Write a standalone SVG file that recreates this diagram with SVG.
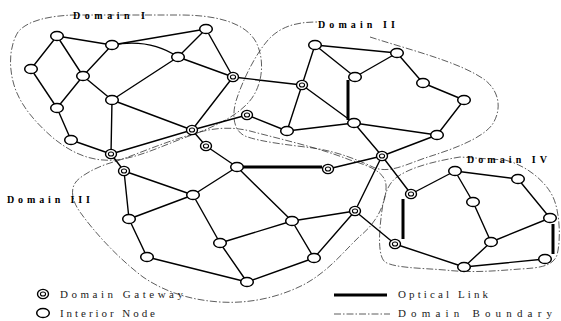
<svg xmlns="http://www.w3.org/2000/svg" width="561" height="321" viewBox="0 0 561 321">
  <style>
    .bg { fill: #ffffff; }
    .edge { stroke: #000; stroke-width: 1.4; fill: none; stroke-linecap: round; }
    .optical { stroke: #000; stroke-width: 3; fill: none; }
    .boundary { stroke: #333; stroke-width: 0.8; fill: none; stroke-dasharray: 7 2 1.5 2; }
    .node { fill: #fff; stroke: #000; stroke-width: 1.5; }
    .gw { fill: #fff; stroke: #000; stroke-width: 1.4; }
    .gwin { fill: none; stroke: #000; stroke-width: 1.1; }
    .dlabel { font-family: "Liberation Serif", "Times New Roman", serif; font-weight: bold; font-size: 10px; fill: #000; }
    .legend { font-family: "Liberation Serif", "Times New Roman", serif; font-size: 11px; fill: #222; }
  </style>
  <defs>
    <g id="inode"><ellipse class="node" cx="0" cy="0" rx="6.3" ry="4.6"/></g>
    <g id="gway"><ellipse class="gw" cx="0" cy="0" rx="5.5" ry="4.6"/><ellipse class="gwin" cx="0" cy="0" rx="2.6" ry="2"/></g>
  </defs>
  <rect class="bg" x="0" y="0" width="561" height="321"/>

  <!-- domain boundaries -->
  <g id="boundaries">
    <path id="domain-1-boundary" class="boundary" d="M145,15 L180,15 C215,15 245,22 256,42 C266,62 262,88 248,103 C235,117 215,126 195,134 C170,142 140,158 115,160 C90,162 70,152 52,137 C35,122 20,105 14,85 C8,65 10,45 18,32 C28,20 50,16 73,15 Z"/>
    <path id="domain-2-boundary" class="boundary" d="M370,37 C410,50 460,62 485,80 C500,92 502,110 492,125 C480,140 450,150 425,158 C405,165 390,173 375,168 C360,161 340,152 313,148 C290,145 260,142 245,136 C232,130 232,112 237,98 C243,80 255,55 268,40 C280,27 295,22 317,22"/>
    <path id="domain-3-boundary" class="boundary" d="M117,161 C140,153 165,142 190,135 C210,128 230,126 250,131 C280,139 320,148 350,160 C370,166 385,172 386,185 C387,200 378,222 360,236 C345,250 330,270 305,284 C280,297 250,304 220,302 C190,300 165,292 143,277 C118,258 95,233 80,212 C70,198 70,185 80,178 C90,170 105,164 117,161 Z"/>
    <path id="domain-4-boundary" class="boundary" d="M505,160 C525,165 545,180 553,197 C560,212 561,240 557,255 C553,266 540,268 520,269 C495,271 470,273 445,270 C420,268 395,268 385,262 C378,256 379,235 381,218 C383,200 386,185 397,177 C410,168 430,162 460,157 L505,160"/>
  </g>

  <!-- links -->
  <g id="connectors">
    <!-- domain I -->
    <line class="edge" x1="57" y1="36" x2="112" y2="45"/>
    <line class="edge" x1="57" y1="36" x2="31" y2="69"/>
    <line class="edge" x1="57" y1="36" x2="83" y2="76"/>
    <line class="edge" x1="112" y1="45" x2="206" y2="29"/>
    <path class="edge" d="M112,45 Q150,38 178,57"/>
    <line class="edge" x1="112" y1="45" x2="83" y2="76"/>
    <line class="edge" x1="31" y1="69" x2="57" y2="108"/>
    <line class="edge" x1="83" y1="76" x2="57" y2="108"/>
    <line class="edge" x1="83" y1="76" x2="112" y2="100"/>
    <line class="edge" x1="57" y1="108" x2="71" y2="140"/>
    <line class="edge" x1="112" y1="100" x2="178" y2="57"/>
    <line class="edge" x1="112" y1="100" x2="111" y2="154"/>
    <line class="edge" x1="112" y1="100" x2="192" y2="130"/>
    <line class="edge" x1="71" y1="140" x2="111" y2="154"/>
    <line class="edge" x1="111" y1="154" x2="192" y2="130"/>
    <line class="edge" x1="111" y1="154" x2="124" y2="171"/>
    <line class="edge" x1="206" y1="29" x2="178" y2="57"/>
    <line class="edge" x1="206" y1="29" x2="233" y2="77"/>
    <line class="edge" x1="178" y1="57" x2="233" y2="77"/>
    <line class="edge" x1="233" y1="77" x2="192" y2="130"/>
    <line class="edge" x1="192" y1="130" x2="206" y2="146"/>
    <line class="edge" x1="192" y1="130" x2="247" y2="115"/>
    <!-- domain II -->
    <line class="edge" x1="233" y1="77" x2="302" y2="85"/>
    <line class="edge" x1="302" y1="85" x2="315" y2="45"/>
    <line class="edge" x1="302" y1="85" x2="354" y2="123"/>
    <line class="edge" x1="302" y1="85" x2="287" y2="131"/>
    <line class="edge" x1="315" y1="45" x2="397" y2="53"/>
    <line class="edge" x1="315" y1="45" x2="355" y2="77"/>
    <line class="edge" x1="355" y1="77" x2="397" y2="53"/>
    <line class="optical" x1="348" y1="80" x2="348" y2="120"/>
    <line class="edge" x1="397" y1="53" x2="423" y2="83"/>
    <line class="edge" x1="423" y1="83" x2="464" y2="100"/>
    <line class="edge" x1="464" y1="100" x2="437" y2="135"/>
    <line class="edge" x1="354" y1="123" x2="437" y2="135"/>
    <line class="edge" x1="287" y1="131" x2="354" y2="123"/>
    <line class="edge" x1="247" y1="115" x2="287" y2="131"/>
    <line class="edge" x1="354" y1="123" x2="382" y2="156"/>
    <line class="edge" x1="437" y1="135" x2="382" y2="156"/>
    <!-- domain III -->
    <line class="edge" x1="206" y1="146" x2="237" y2="167"/>
    <line class="optical" x1="243" y1="167" x2="322" y2="167"/>
    <line class="edge" x1="328" y1="169" x2="382" y2="156"/>
    <line class="edge" x1="237" y1="167" x2="193" y2="195"/>
    <line class="edge" x1="237" y1="167" x2="292" y2="221"/>
    <line class="edge" x1="124" y1="171" x2="193" y2="195"/>
    <line class="edge" x1="124" y1="171" x2="129" y2="219"/>
    <line class="edge" x1="129" y1="219" x2="193" y2="195"/>
    <line class="edge" x1="129" y1="219" x2="147" y2="257"/>
    <line class="edge" x1="193" y1="195" x2="220" y2="243"/>
    <line class="edge" x1="147" y1="257" x2="247" y2="282"/>
    <line class="edge" x1="220" y1="243" x2="247" y2="282"/>
    <line class="edge" x1="220" y1="243" x2="292" y2="221"/>
    <line class="edge" x1="292" y1="221" x2="355" y2="211"/>
    <line class="edge" x1="292" y1="221" x2="314" y2="258"/>
    <line class="edge" x1="247" y1="282" x2="314" y2="258"/>
    <line class="edge" x1="314" y1="258" x2="355" y2="211"/>
    <line class="edge" x1="355" y1="211" x2="382" y2="156"/>
    <line class="edge" x1="355" y1="211" x2="395" y2="244"/>
    <!-- domain IV -->
    <line class="edge" x1="382" y1="156" x2="411" y2="194"/>
    <line class="edge" x1="411" y1="194" x2="455" y2="171"/>
    <line class="optical" x1="403" y1="199" x2="403" y2="239"/>
    <line class="edge" x1="395" y1="244" x2="464" y2="267"/>
    <line class="edge" x1="455" y1="171" x2="518" y2="179"/>
    <line class="edge" x1="455" y1="171" x2="473" y2="202"/>
    <line class="edge" x1="518" y1="179" x2="550" y2="218"/>
    <line class="edge" x1="473" y1="202" x2="491" y2="242"/>
    <line class="edge" x1="491" y1="242" x2="550" y2="218"/>
    <line class="edge" x1="491" y1="242" x2="464" y2="267"/>
    <line class="optical" x1="553" y1="224" x2="553" y2="254"/>
    <line class="edge" x1="545" y1="259" x2="464" y2="267"/>
  </g>

  <!-- interior nodes -->
  <g id="node-n1"><use href="#inode" x="57" y="36"/></g>
  <g id="node-n2"><use href="#inode" x="112" y="45"/></g>
  <g id="node-n3"><use href="#inode" x="31" y="69"/></g>
  <g id="node-n4"><use href="#inode" x="83" y="76"/></g>
  <g id="node-n5"><use href="#inode" x="178" y="57"/></g>
  <g id="node-n6"><use href="#inode" x="112" y="100"/></g>
  <g id="node-n7"><use href="#inode" x="57" y="108"/></g>
  <g id="node-n8"><use href="#inode" x="71" y="140"/></g>
  <g id="node-n9"><use href="#inode" x="206" y="29"/></g>
  <g id="node-n10"><use href="#inode" x="315" y="45"/></g>
  <g id="node-n11"><use href="#inode" x="355" y="77"/></g>
  <g id="node-n12"><use href="#inode" x="397" y="53"/></g>
  <g id="node-n13"><use href="#inode" x="423" y="83"/></g>
  <g id="node-n14"><use href="#inode" x="464" y="100"/></g>
  <g id="node-n15"><use href="#inode" x="437" y="135"/></g>
  <g id="node-n16"><use href="#inode" x="354" y="123"/></g>
  <g id="node-n17"><use href="#inode" x="287" y="131"/></g>
  <g id="node-n18"><use href="#inode" x="237" y="167"/></g>
  <g id="node-n19"><use href="#inode" x="193" y="195"/></g>
  <g id="node-n20"><use href="#inode" x="129" y="219"/></g>
  <g id="node-n21"><use href="#inode" x="147" y="257"/></g>
  <g id="node-n22"><use href="#inode" x="220" y="243"/></g>
  <g id="node-n23"><use href="#inode" x="292" y="221"/></g>
  <g id="node-n24"><use href="#inode" x="314" y="258"/></g>
  <g id="node-n25"><use href="#inode" x="247" y="282"/></g>
  <g id="node-n26"><use href="#inode" x="455" y="171"/></g>
  <g id="node-n27"><use href="#inode" x="518" y="179"/></g>
  <g id="node-n28"><use href="#inode" x="473" y="202"/></g>
  <g id="node-n29"><use href="#inode" x="550" y="218"/></g>
  <g id="node-n30"><use href="#inode" x="491" y="242"/></g>
  <g id="node-n31"><use href="#inode" x="545" y="259"/></g>
  <g id="node-n32"><use href="#inode" x="464" y="267"/></g>

  <!-- gateways -->
  <g id="gw-g1"><use href="#gway" x="111" y="154"/></g>
  <g id="gw-g2"><use href="#gway" x="192" y="130"/></g>
  <g id="gw-g3"><use href="#gway" x="233" y="77"/></g>
  <g id="gw-g4"><use href="#gway" x="302" y="85"/></g>
  <g id="gw-g5"><use href="#gway" x="247" y="115"/></g>
  <g id="gw-g6"><use href="#gway" x="206" y="146"/></g>
  <g id="gw-g7"><use href="#gway" x="124" y="171"/></g>
  <g id="gw-g8"><use href="#gway" x="328" y="169"/></g>
  <g id="gw-g9"><use href="#gway" x="382" y="156"/></g>
  <g id="gw-g10"><use href="#gway" x="355" y="211"/></g>
  <g id="gw-g11"><use href="#gway" x="411" y="194"/></g>
  <g id="gw-g12"><use href="#gway" x="395" y="244"/></g>

  <!-- domain labels -->
  <g id="labels">
    <text class="dlabel" x="73" y="19" textLength="72" lengthAdjust="spacing">Domain I</text>
    <text class="dlabel" x="318" y="28" textLength="77" lengthAdjust="spacing">Domain II</text>
    <text class="dlabel" x="7" y="203" textLength="83" lengthAdjust="spacing">Domain III</text>
    <text class="dlabel" x="467" y="163" textLength="80" lengthAdjust="spacing">Domain IV</text>
  </g>

  <!-- legend -->
  <g id="legend">
    <use href="#gway" x="43" y="294"/>
    <use href="#inode" x="43" y="313"/>
    <text class="legend" x="60" y="298" textLength="123" lengthAdjust="spacing">Domain Gateway</text>
    <text class="legend" x="60" y="317" textLength="95" lengthAdjust="spacing">Interior Node</text>
    <line class="optical" x1="334" y1="295" x2="387" y2="295"/>
    <line class="boundary" x1="334" y1="314" x2="390" y2="314"/>
    <text class="legend" x="398" y="298" textLength="90" lengthAdjust="spacing">Optical Link</text>
    <text class="legend" x="398" y="317" textLength="154" lengthAdjust="spacing">Domain Boundary</text>
  </g>
</svg>
